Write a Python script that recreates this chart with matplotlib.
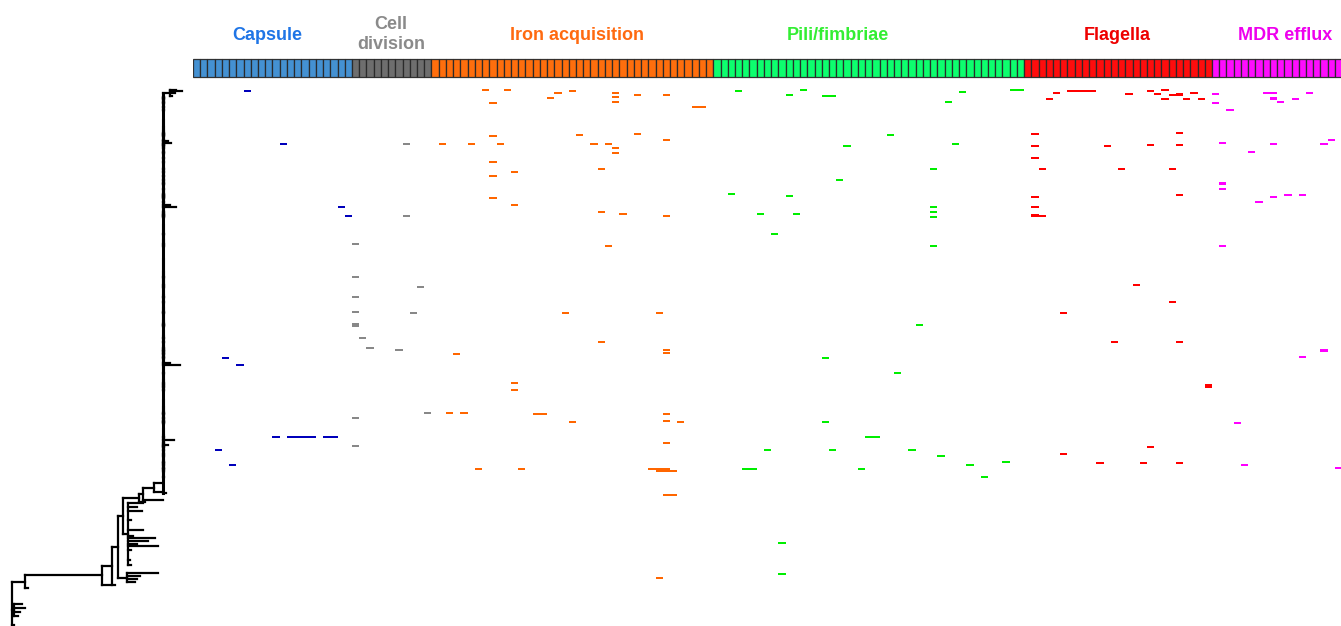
import matplotlib
matplotlib.use("Agg")
import matplotlib.pyplot as plt
from matplotlib.patches import Rectangle
from matplotlib.collections import LineCollection
import sys

plt.rcParams['font.family'] = ['Liberation Sans', 'DejaVu Sans']

# ---------------- data ----------------
categories = ["Capsule", "Cell\ndivision", "Iron acquisition", "Pili/fimbriae", "Flagella", "MDR efflux"]
n_genes = [22, 11, 39, 43, 26, 18]
header_colors = ["#3a8bd0", "#666666", "#ff6600", "#00ff66", "#ff0000", "#ff00ff"]
label_colors = ["#1f75e6", "#8a8a8a", "#ff6a10", "#33ee33", "#ee0000", "#ee00ee"]
mark_colors = ["#0000bb", "#888888", "#ff6600", "#00ee00", "#ff0000", "#ff00ff"]

# presence marks: (leaf_row, gene column)
capsule = [(91, 7), (144, 12), (207, 20), (216, 21), (358, 4), (365, 6), (437, 11), (437, 13),
           (437, 14), (437, 15), (437, 16), (437, 18), (437, 19), (450, 3), (465, 5)]
cell_division = [(144, 29), (216, 29), (244, 22), (277, 22), (297, 22), (287, 31), (312, 22),
                 (313, 30), (324, 22), (326, 22), (338, 23), (348, 24), (350, 28), (418, 22),
                 (446, 22), (413, 32)]
iron = [(90, 40), (90, 43), (103, 41), (93, 50), (91, 52), (98, 49), (136, 41), (135, 53),
        (144, 34), (144, 38), (144, 42), (162, 41), (172, 44), (176, 41), (198, 41), (205, 44),
        (93, 58), (97, 58), (102, 58), (95, 61), (95, 65), (107, 69), (107, 70), (134, 61),
        (140, 65), (144, 55), (144, 57), (148, 58), (153, 58), (169, 56), (212, 56), (214, 59),
        (216, 65), (246, 57), (313, 51), (313, 64), (342, 56), (350, 65), (353, 65), (354, 36),
        (383, 44), (390, 44), (413, 35), (413, 37), (414, 47), (414, 48), (422, 52),
        (414, 65), (421, 65), (422, 67), (443, 65), (469, 39), (469, 45), (469, 63), (469, 64),
        (469, 65), (471, 64), (471, 65), (471, 66), (495, 65), (495, 66), (578, 64)]
pili = [(90, 113), (90, 114), (91, 75), (95, 82), (90, 84), (96, 87), (96, 88), (92, 106),
        (102, 104), (135, 96), (146, 90), (144, 105), (169, 102), (180, 89), (194, 74), (196, 82),
        (214, 78), (214, 83), (234, 80), (207, 102), (212, 102), (217, 102), (246, 102), (325, 100),
        (358, 87), (373, 97), (422, 87), (437, 93), (437, 94), (450, 79), (450, 88), (450, 99),
        (456, 103), (469, 76), (469, 77), (469, 92), (465, 107), (477, 109), (462, 112),
        (543, 81), (574, 81)]
flagella = [(93, 119), (91, 121), (91, 122), (91, 123), (91, 124), (94, 129), (91, 132), (90, 134),
            (94, 133), (95, 135), (94, 136), (95, 136), (93, 138), (99, 118), (99, 134), (99, 137),
            (99, 139), (134, 116), (146, 116), (158, 116), (169, 117), (146, 126), (169, 128),
            (145, 132), (133, 136), (145, 136), (169, 135), (195, 136), (197, 116), (207, 116),
            (215, 116), (216, 116), (216, 117), (285, 130), (302, 135), (313, 120), (342, 127),
            (342, 136), (385, 140), (387, 140), (447, 132), (454, 120), (463, 125), (463, 131),
            (463, 136)]
mdr = [(94, 141), (103, 141), (110, 143), (93, 148), (93, 149), (98, 149), (99, 149), (102, 150),
       (99, 152), (93, 154), (143, 142), (144, 149), (152, 146), (144, 156), (140, 157), (183, 142),
       (184, 142), (189, 142), (197, 149), (195, 151), (195, 153), (202, 147), (246, 142),
       (350, 156), (351, 156), (357, 153), (423, 144), (465, 145), (468, 158)]
marks = [capsule, cell_division, iron, pili, flagella, mdr]

# tree: spine tips (leaf_row, tip depth) and clades
spine_depth = 163
spine_stubs = [(141, 168), (143, 171), (205, 170), (207, 176), (363, 170), (365, 180),
               (440, 174), (445, 168), (493, 166)]
top_clade = (170, [(90, 176), (91, 182), (93, 175), (96, 172)])
bottom_clade = (14, [(604, 22), (608, 25), (612, 20), (616, 18)])
root_depth = 12
root_tip = (625, 14)
n25_tip = (588, 28)
n102_tip = (585, 110)
n112_tip = (585, 115)
n118_tips = [(573, 158), (576, 140), (579, 137), (582, 135)]
n128_tips = [(503, 143), (507, 137), (511, 142), (520, 131), (530, 143), (536, 133), (538, 155),
             (541, 148), (544, 137), (546, 158), (550, 131), (560, 130), (565, 131)]
n139_tip = (502, 145)
n143_tip = (500, 163)
n154_tip = (492, 163)

# ---------------- tree structure ----------------
def L(row, x):
    return {"x": x, "row": row}

def N(x, kids):
    return {"x": x, "kids": kids}

mark_rows = sorted({r for m in marks for r, c in m if r < 492})
stub_rows = {r: x for r, x in spine_stubs}
items = [N(top_clade[0], [L(r, x) for r, x in top_clade[1]])]
for r in sorted(set(mark_rows) | set(stub_rows)):
    if r > 96:
        items.append(L(r, stub_rows.get(r, spine_depth + 1.0)))
spine = items[0]
for it in items[1:]:
    spine = N(spine_depth, [spine, it])

n154 = N(154, [spine, L(*n154_tip)])
n143 = N(143, [n154, L(*n143_tip)])
n139 = N(139, [n143, L(*n139_tip)])
n128 = N(128, [L(r, x) for r, x in n128_tips])
n123 = N(123, [n139, n128])
n120 = N(127, [L(r, x) for r, x in n118_tips])
n118 = N(118, [n123, n120])
n112 = N(112, [n118, L(*n112_tip)])
n102 = N(102, [n112, L(*n102_tip)])
n25 = N(25, [n102, L(*n25_tip)])
nb = N(bottom_clade[0], [L(r, x) for r, x in bottom_clade[1]])
root = N(root_depth, [n25, nb, L(*root_tip)])

segs, spine_segs = [], []
def layout(nd):
    if "row" in nd:
        nd["y"] = nd["row"]
        return
    for k in nd["kids"]:
        layout(k)
    ys = [k["y"] for k in nd["kids"]]
    nd["y"] = (min(ys) + max(ys)) / 2
    target = spine_segs if nd["x"] == spine_depth else segs
    target.append([(nd["x"], min(ys)), (nd["x"], max(ys))])
    for k in nd["kids"]:
        segs.append([(nd["x"], k["y"]), (k["x"], k["y"])])

sys.setrecursionlimit(10000)
layout(root)

# ---------------- figure ----------------
W, H = 1341, 626
fig = plt.figure(figsize=(W / 100, H / 100), dpi=100)

axt = fig.add_axes([0, 0, 193 / W, 1])
axt.add_collection(LineCollection(segs, colors="black", linewidths=1.6, capstyle="projecting"))
axt.add_collection(LineCollection(spine_segs, colors="black", linewidths=2.2, capstyle="projecting"))
axt.set_xlim(0, 193)
axt.set_ylim(H, 0)
axt.axis("off")

ncol = sum(n_genes)
colw = 7.227
ax = fig.add_axes([193 / W, 0, ncol * colw / W, 1])
ax.set_xlim(0, ncol)
ax.set_ylim(H, 0)
ax.axis("off")

start = 0
for name, n, hc, lc, mc, m, lx in zip(categories, n_genes, header_colors, label_colors,
                                     mark_colors, marks, [10.3, 27.4, 53.1, 89.2, 127.9, 151.1]):
    for c in range(start, start + n):
        ax.add_patch(Rectangle((c, 59), 1, 18, facecolor=hc, edgecolor="#2a2a2a",
                               linewidth=0.9, alpha=0.95))
    ax.text(lx, 34.5 if "\n" in name else 36, name, color=lc, fontsize=13, fontweight="bold",
            ha="center", va="center", linespacing=1.25)
    rows = [r for r, c in m]
    cols = [c for r, c in m]
    ax.bar(cols, 1.4, bottom=[r - 0.7 for r in rows], width=1.0, align="edge",
           color=mc, linewidth=0)
    start += n

fig.savefig("out.png", dpi=100)
